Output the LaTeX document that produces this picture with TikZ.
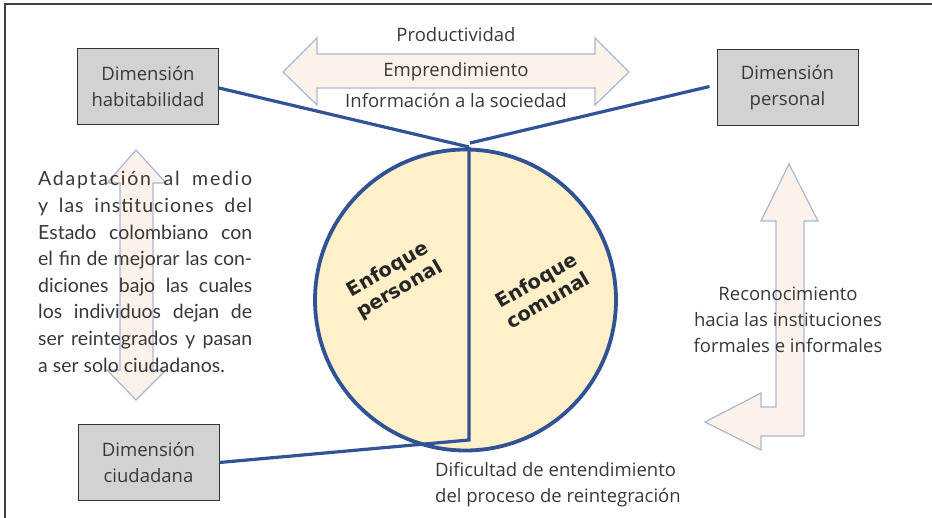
\documentclass[tikz,border=0pt]{standalone}
\usepackage{fontspec}
\setmainfont{Open Sans}
\newfontfamily\parafont{Lato}
\newfontfamily\boldfont{DejaVu Sans}
\usetikzlibrary{positioning}

\definecolor{boxgray}{HTML}{D1D2D4}
\definecolor{lineblue}{HTML}{2F5395}
\definecolor{circfill}{HTML}{FFF0C9}
\definecolor{arrfill}{HTML}{FCF2EA}
\definecolor{arredge}{HTML}{A9B7D3}
\definecolor{txtgray}{HTML}{383838}

\tikzset{
  dimbox/.style={draw=black!80, line width=1pt, fill=boxgray, minimum width=141pt,
    minimum height=76pt, align=center, text=txtgray,
    font=\fontsize{18.5}{26}\selectfont},
  lbl/.style={text=txtgray, inner sep=0pt, font=\fontsize{18.5}{26}\selectfont},
  enfoque/.style={text=black!85, align=center, rotate=30, inner sep=0pt,
    font=\boldfont\bfseries\fontsize{19.5}{23}\selectfont},
  link/.style={draw=lineblue, line width=3.2pt},
  bigarrow/.style={draw=arredge, fill=arrfill, line width=1.2pt, line join=miter}
}

\begin{document}
\begin{tikzpicture}[x=1pt, y=-1pt]
    \useasboundingbox (0,0) rectangle (932,518);
    \draw[black!75, line width=1.3pt] (5,518) -- (5,4) -- (932,4);

    % Arrows in the back
    \draw[bigarrow] (283,72) -- (317,38) -- (317,54) -- (595,54) -- (595,38)
      -- (629,72) -- (595,105) -- (595,88) -- (317,88) -- (317,105) -- cycle;
    \draw[bigarrow] (136,150) -- (166,183) -- (153,183) -- (153,370) -- (166,370)
      -- (136,400) -- (107,370) -- (120,370) -- (120,183) -- (107,183) -- cycle;
    \draw[bigarrow] (789,164) -- (818,221) -- (804,221) -- (804,436) -- (761,436)
      -- (761,450) -- (705,422) -- (761,393) -- (761,407) -- (776,407)
      -- (776,221) -- (761,221) -- cycle;

    % Nodes
    \node[dimbox] (hab) at (148,87) {Dimensión\\habitabilidad};
    \node[dimbox] (per) at (787.5,87.5) {Dimensión\\personal};
    \node[dimbox] (ciu) at (148.5,462.5) {Dimensión\\ciudadana};
    \node[circle, draw=lineblue, line width=3.8pt, fill=circfill,
      minimum size=301pt, inner sep=0pt] (circ) at (465.5,300) {};
    \coordinate (top) at (469,147);
    \coordinate (topr) at (470,143);
    \coordinate (bot) at (469,440);

    \node[enfoque] (ep) at (394,280) {Enfoque\\personal};
    \node[enfoque] (ec) at (542,290) {Enfoque\\comunal};

    \node[lbl, anchor=base] (prod) at (456,42) {Productividad};
    \node[lbl, anchor=base] (empr) at (456,77) {Emprendimiento};
    \node[lbl, anchor=base] (info) at (456,108) {Información a la sociedad};

    \node[lbl, align=center, anchor=base] (reco) at (788,353)
      {Reconocimiento\\hacia las instituciones\\formales e informales};
    \node[lbl, align=left, anchor=base west] (difi) at (435,502)
      {Dificultad de entendimiento\\del proceso de reintegración};

    \node[text=txtgray, inner sep=0pt, anchor=base west, text width=214pt,
      align=justify, font=\parafont\fontsize{19.5}{26.6}\selectfont] (adap) at (38,186)
      {{\addfontfeatures{LetterSpace=9}Adaptación al medio}\linebreak
       {\addfontfeatures{LetterSpace=5}y las instituciones del}\linebreak
       Estado colombiano con\linebreak
       el fin de mejorar las con-\linebreak
       diciones bajo las cuales\linebreak
       los individuos dejan de\linebreak
       ser reintegrados y pasan\linebreak
       a ser solo ciudadanos.};

    % Lines
    \draw[link] ([yshift=-1pt]hab.east) -- (top);
    \draw[link] (topr) -- ([xshift=-7pt, yshift=1pt]per.west);
    \draw[link] (top) -- (bot) -- (ciu.east);
\end{tikzpicture}
\end{document}
